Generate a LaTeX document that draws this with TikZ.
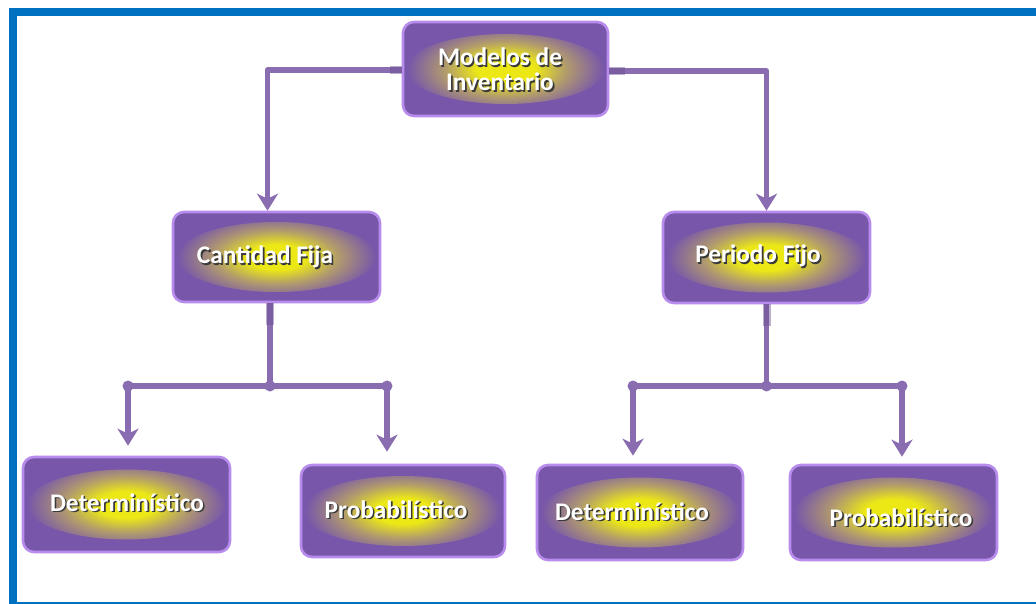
\documentclass[tikz,border=0pt]{standalone}
\usepackage{fontspec}
\setmainfont{Carlito}
\usetikzlibrary{arrows.meta}

\definecolor{frameblue}{HTML}{0070C0}
\definecolor{boxpurple}{HTML}{7856AA}
\definecolor{boxedge}{HTML}{B88CEC}
\definecolor{glowyellow}{HTML}{ECE816}
\definecolor{glowmid}{HTML}{B09A6E}
\definecolor{linkpurple}{HTML}{8A6CB0}
\definecolor{stubpurple}{HTML}{6A4C90}
\definecolor{textshadow}{HTML}{3A3A3A}

% yellow glow in the middle of each box, fading into purple
% (the shaded path spans the radii 0bp to 25bp)
\pgfdeclareradialshading{boxglow}{\pgfpoint{0bp}{0bp}}{%
  color(0bp)=(glowyellow); color(7bp)=(glowyellow);
  color(15bp)=(glowmid); color(24bp)=(boxpurple); color(50bp)=(boxpurple)}

% white text with a dark drop shadow
\newcommand{\shadowtext}[1]{%
  \makebox[0pt][l]{\kern1.6pt\raisebox{-1.6pt}{\color{textshadow}#1}}#1}

\tikzset{
  box/.style={rounded corners=11pt, draw=boxedge, line width=2.6pt,
    fill=boxpurple, inner sep=0pt,
    path picture={\shade[shading=boxglow]
      (path picture bounding box.center) ellipse (100 and 35);}},
  lbl/.style={font=\fontsize{25.3}{25}\selectfont\bfseries, text=white,
    align=center, inner sep=0pt},
  link/.style={draw=linkpurple, line width=5.5pt, line join=round},
  linkarrow/.style={link, -{Stealth[length=17pt,width=21pt,inset=5pt]}},
  stub/.style={draw=stubpurple, line width=8pt, opacity=0.45},
  dot/.style={fill=linkpurple}
}

\begin{document}
\begin{tikzpicture}[x=1pt, y=-1pt]
  \useasboundingbox (0,0) rectangle (1036,604);
  \clip (0,0) rectangle (1036,604);
  \fill[white] (0,0) rectangle (1036,604);

  % page frame
  \draw[frameblue, line width=8pt] (13,12) rectangle (1046,606);

  % boxes
  \node[box, minimum width=205pt, minimum height=94pt] (top)   at (505.5,69)  {};
  \node[box, minimum width=207pt, minimum height=90pt] (cf)    at (276.5,257) {};
  \node[box, minimum width=207pt, minimum height=91pt] (pf)    at (766.5,257.5) {};
  \node[box, minimum width=207pt, minimum height=95pt] (det1)  at (126.5,504.5) {};
  \node[box, minimum width=204pt, minimum height=92pt] (prob1) at (403,511) {};
  \node[box, minimum width=206pt, minimum height=95pt] (det2)  at (640,512.5) {};
  \node[box, minimum width=207pt, minimum height=95pt] (prob2) at (893.5,512.5) {};

  % box texts
  \node[lbl] (top-t)   at (500,70.5) {\shadowtext{Modelos de}\\\shadowtext{Inventario}};
  \node[lbl] (cf-t)    at (265,258)  {\shadowtext{Cantidad Fija}};
  \node[lbl] (pf-t)    at (758,257)  {\shadowtext{Periodo Fijo}};
  \node[lbl] (det1-t)  at (127,503)  {\shadowtext{Determinístico}};
  \node[lbl] (prob1-t) at (396,510)  {\shadowtext{Probabilístico}};
  \node[lbl] (det2-t)  at (632,512)  {\shadowtext{Determinístico}};
  \node[lbl] (prob2-t) at (901,518)  {\shadowtext{Probabilístico}};

  % top level connectors
  \draw[linkarrow] ([yshift=-1pt]top.west) -| ([xshift=-9pt]cf.north);
  \draw[linkarrow] ([yshift=-2pt]top.east) -| (pf.north);
  \draw[stub] ([yshift=-1pt]top.west) -- ++(-12,0);
  \draw[stub] ([yshift=-2pt]top.east) -- ++(16,0);

  % branches under "Cantidad Fija"
  \coordinate (jl) at ([xshift=-6.5pt]cf.south |- 0,386);
  \draw[link] ([xshift=-6.5pt]cf.south) -- (jl);
  \draw[stub] ([xshift=-6.5pt]cf.south) -- ++(0,22);
  \draw[linkarrow, shorten >=10pt] (jl) -| ([xshift=1.5pt]det1.north);
  \draw[linkarrow, shorten >=12pt] (jl) -| ([xshift=-16pt]prob1.north);
  \fill[dot] (jl) circle (5.5);
  \fill[dot] ([xshift=1.5pt]det1.north |- jl) circle (5.5);
  \fill[dot] ([xshift=-16pt]prob1.north |- jl) circle (5.5);

  % branches under "Periodo Fijo"
  \coordinate (jr) at (pf.south |- 0,386);
  \draw[link] (pf.south) -- (jr);
  \draw[stub] (pf.south) -- ++(0,22);
  \draw[linkarrow, shorten >=8pt] (jr) -| ([xshift=-7pt]det2.north);
  \draw[linkarrow, shorten >=7pt] (jr) -| ([xshift=8.5pt]prob2.north);
  \fill[dot] (jr) circle (5.5);
  \fill[dot] ([xshift=-7pt]det2.north |- jr) circle (5.5);
  \fill[dot] ([xshift=8.5pt]prob2.north |- jr) circle (5.5);
\end{tikzpicture}
\end{document}
